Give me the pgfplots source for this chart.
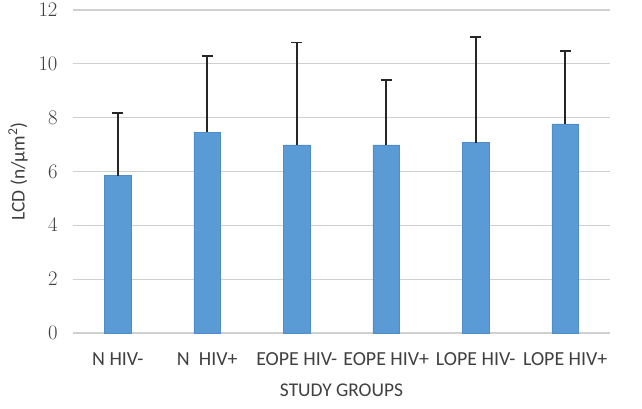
\documentclass[border=0pt]{standalone}
\usepackage{pgfplots}
\pgfplotsset{compat=1.18}
\usepackage{fontspec}
\setmainfont{Carlito}
\definecolor{barblue}{HTML}{5B9BD5}
\definecolor{baredge}{HTML}{4F8CC9}
\definecolor{gridgray}{HTML}{D0D0D0}
\definecolor{labelgray}{HTML}{404040}
\begin{document}
\begin{tikzpicture}[x=1bp,y=1bp]
\useasboundingbox (0,0) rectangle (642,408);
\begin{axis}[
  at={(73bp,75bp)}, anchor=south west,
  scale only axis,
  width=537bp, height=323bp,
  xmin=-0.5, xmax=5.5,
  ymin=0, ymax=12,
  ytick={0,2,...,12},
  xtick={0,1,2,3,4,5},
  xticklabels={N HIV-, N\ \ HIV+, EOPE HIV-, EOPE HIV+, LOPE HIV-, LOPE HIV+},
  axis line style={draw=none},
  major tick length=0pt,
  ymajorgrids,
  grid style={gridgray, line width=1.3bp},
  tick label style={font=\fontsize{20}{22}\selectfont, text=labelgray},
  yticklabel style={xshift=-12bp},
  xticklabel style={yshift=-16bp},
  xlabel={STUDY GROUPS},
  ylabel={LCD (n/µm\textsuperscript{2})},
  label style={font=\fontsize{19.5}{22}\selectfont, text=labelgray},
  xlabel style={at={(axis description cs:0.5,0)}, anchor=center, yshift=-57bp},
  ylabel style={at={(axis description cs:0,0.5)}, anchor=center, rotate=0, yshift=55bp},
  ybar, bar width=0.3,
]
\addplot[fill=barblue, draw=baredge, line width=0.6bp,
  error bars/.cd, y dir=plus, y explicit,
  error bar style={black!85, line width=1.6bp},
  error mark options={rotate=90, mark size=5.5bp, line width=1.8bp, black!85}]
  coordinates {
    (0,5.85) +- (0,2.32)
    (1,7.46) +- (0,2.84)
    (2,6.99) +- (0,3.80)
    (3,6.99) +- (0,2.40)
    (4,7.07) +- (0,3.93)
    (5,7.77) +- (0,2.71)
  };
\end{axis}
\end{tikzpicture}
\end{document}
